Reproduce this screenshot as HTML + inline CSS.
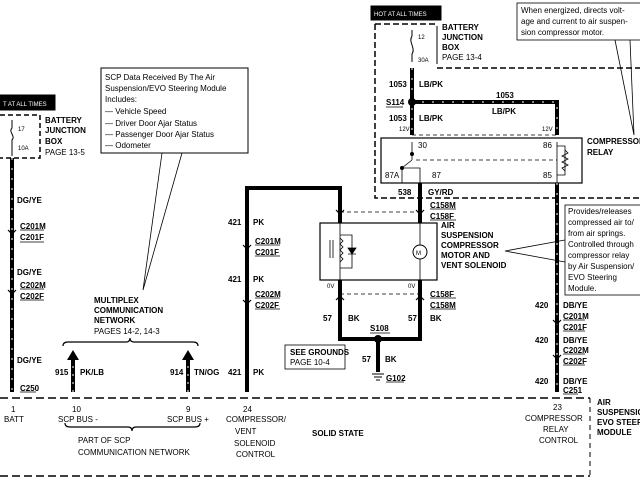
<!DOCTYPE html>
<html><head><meta charset="utf-8"><style>
html,body{margin:0;padding:0;background:#fff;}
svg{display:block;}
text{font-family:"Liberation Sans",sans-serif;font-size:8px;fill:#000;}
.b{font-weight:bold;}
.s{font-size:6px;}
</style></head><body>
<svg width="640" height="480" viewBox="0 0 640 480" xmlns="http://www.w3.org/2000/svg">
<rect width="640" height="480" fill="#fff"/>
<g stroke="#000" fill="none">
<rect x="0" y="95" width="55" height="15" fill="#000"/>
<path d="M0 115 H40 V158 H0" stroke-dasharray="5,3" stroke-width="1.5"/>
<path d="M12 120 V128 C8 132 16 136 12 140 V156" stroke-width="1"/>
<path d="M12 158 V392" stroke-width="4"/>
<path d="M12 158 V392" stroke="#fff" stroke-width="1" stroke-dasharray="2,8"/>
<path d="M0 398 H590" stroke-dasharray="8,4" stroke-width="1.5"/>
<path d="M0 476 H590" stroke-dasharray="8,4" stroke-width="1.5"/>
<path d="M590 398 V476" stroke-dasharray="5,4" stroke-width="1"/>
<rect x="101" y="68" width="147" height="85" stroke-width="1" fill="#fff"/>
<path d="M162 153 L143 290 L182 153" stroke-width="0.8"/>
<!-- braces -->
<path d="M63 346 Q63 342 68 342 H126 Q130 342 130 338 Q130 342 134 342 H193 Q198 342 198 346" stroke-width="1.2"/>
<path d="M65 423 Q65 427 70 427 H128 Q132 427 132 431 Q132 427 136 427 H195 Q200 427 200 423" stroke-width="1.2"/>
<path d="M73 358 V392 M188 358 V392" stroke-width="4"/>
<path d="M73 358 V392 M188 358 V392" stroke="#fff" stroke-width="1" stroke-dasharray="2,6"/>
<path d="M67 360 L73 350 L79 360 Z M182 360 L188 350 L194 360 Z" fill="#000" stroke="none"/>
<path d="M247 392 V188 H340 V212" stroke-width="4"/>
<rect x="371" y="6" width="70" height="14" fill="#000"/>
<path d="M375 24 H437 M375 24 V198 H640 M437 68 H640" stroke-dasharray="6,3" stroke-width="1.5"/>
<path d="M437 26 V64" stroke-width="1"/>
<path d="M412 30 V36 C408 42 416 48 412 54 V62" stroke-width="1"/>
<path d="M412 68 V135 M412 102 H557 V135" stroke-width="4"/>
<path d="M412 68 V135 M412 102 H557 V135" stroke="#fff" stroke-width="1" stroke-dasharray="2,8"/>
<rect x="381" y="138" width="201" height="45" stroke-width="1.2"/>
<path d="M412 135 H557" stroke-dasharray="4,3" stroke-width="0.8"/>
<path d="M412 160 V142 M412 160 L402 168 V183 M402 168 H420 V183 M557 142 V183 M557 146 H565 V175 H557" stroke-width="0.8"/>
<path d="M416 160 H557" stroke-dasharray="4,3" stroke-width="0.8"/>
<path d="M565 150 l3 3 -6 3 6 3 -6 3 6 3 -6 3 3 3" stroke-width="0.8"/>
<circle cx="412" cy="154" r="1.5" fill="#000"/><circle cx="402" cy="168" r="1.5" fill="#000"/>
<path d="M420 183 V212" stroke-width="4"/>
<path d="M340 212 H420" stroke-dasharray="4,3" stroke-width="0.8"/>
<rect x="320" y="223" width="117" height="57" stroke-width="1.2"/>
<path d="M340 212 V223 M420 212 V223" stroke-width="4"/>
<path d="M340 223 V280 M420 223 V280 M340 235 H352 V268 H340" stroke-width="0.8"/>
<path d="M340 238 l3 3 -3 3 3 3 -3 3 3 3 -3 3 3 3 -3 3" stroke-width="0.8"/>
<path d="M330 240 V258 M333 240 V258" stroke-width="0.8"/>
<path d="M348 248 H356 L352 254 Z M348 254 H356" stroke-width="0.8" fill="#000"/>
<circle cx="420" cy="252" r="7" stroke-width="1" fill="#fff"/>
<path d="M340 280 V339 H420 V280 M378 339 V372" stroke-width="4"/>
<path d="M340 294 H420" stroke-dasharray="4,3" stroke-width="0.8"/>
<circle cx="378" cy="339" r="3.5" fill="#000"/>
<path d="M372 374 H384 M374 377 H382 M376 380 H380" stroke-width="1"/>
<rect x="285" y="345" width="60" height="24" stroke-width="0.8" fill="#fff"/>
<path d="M557 183 V392" stroke-width="4"/>
<path d="M557 183 V392" stroke="#fff" stroke-width="1" stroke-dasharray="2,8"/>
<circle cx="412" cy="102" r="3.5" fill="#000"/>
<rect x="565" y="205" width="80" height="90" stroke-width="0.8" fill="#fff"/>
<path d="M565 240 L505 251 L565 262" stroke-width="0.8"/>
<rect x="517" y="3" width="130" height="37" stroke-width="0.8" fill="#fff"/>
<path d="M615 40 L634 135 L630 40" stroke-width="0.8"/>
<path d="M8 230 l4 4 4 -4 M8 290 l4 4 4 -4 M243 245 l4 4 4 -4 M243 300 l4 4 4 -4 M553 320 l4 4 4 -4 M553 355 l4 4 4 -4 M336 210 l4 4 4 -4 M416 210 l4 4 4 -4 M336 300 l4 -4 4 4 M416 300 l4 -4 4 4" stroke-width="1.2"/>
<path d="M20 230 H44 M20 242 H44 M20 289 H44 M20 300 H44 M20 392 H36 M255 245 H280 M255 256 H280 M255 298 H280 M255 309 H280 M430 209 H456 M430 220 H456 M430 298 H456 M430 309 H456 M563 320 H585 M563 331 H585 M563 354 H585 M563 365 H585 M563 394 H578 M370 333 H390 M386 382 H404 M386 107 H403" stroke-width="0.8"/>
</g>
<text x="3" y="106" class="s" style="fill:#fff">T AT ALL TIMES</text>
<text x="18" y="131" class="s">17</text><text x="18" y="150" class="s">10A</text>
<text x="45" y="123" class="b">BATTERY</text><text x="45" y="133" class="b">JUNCTION</text><text x="45" y="144" class="b">BOX</text><text x="45" y="155">PAGE 13-5</text>
<text x="17" y="203" class="b">DG/YE</text><text x="20" y="229" class="b">C201M</text><text x="20" y="240" class="b">C201F</text>
<text x="17" y="275" class="b">DG/YE</text><text x="20" y="288" class="b">C202M</text><text x="20" y="299" class="b">C202F</text>
<text x="17" y="363" class="b">DG/YE</text><text x="20" y="391" class="b">C250</text>
<text x="105" y="80">SCP Data Received By The Air</text><text x="105" y="91">Suspension/EVO Steering Module</text><text x="105" y="102">Includes:</text>
<text x="105" y="114">— Vehicle Speed</text><text x="105" y="126">— Driver Door Ajar Status</text><text x="105" y="137">— Passenger Door Ajar Status</text><text x="105" y="148">— Odometer</text>
<text x="94" y="303" class="b">MULTIPLEX</text><text x="94" y="313" class="b">COMMUNICATION</text><text x="94" y="323" class="b">NETWORK</text><text x="94" y="334">PAGES 14-2, 14-3</text>
<text x="55" y="375" class="b">915</text><text x="80" y="375" class="b">PK/LB</text><text x="170" y="375" class="b">914</text><text x="194" y="375" class="b">TN/OG</text>
<text x="228" y="225" class="b">421</text><text x="253" y="225" class="b">PK</text><text x="255" y="244" class="b">C201M</text><text x="255" y="255" class="b">C201F</text>
<text x="228" y="282" class="b">421</text><text x="253" y="282" class="b">PK</text><text x="255" y="297" class="b">C202M</text><text x="255" y="308" class="b">C202F</text>
<text x="228" y="375" class="b">421</text><text x="253" y="375" class="b">PK</text>
<text x="11" y="412">1</text><text x="4" y="422">BATT</text>
<text x="72" y="412">10</text><text x="58" y="422">SCP BUS -</text>
<text x="186" y="412">9</text><text x="167" y="422">SCP BUS +</text>
<text x="78" y="443">PART OF SCP</text><text x="78" y="455">COMMUNICATION NETWORK</text>
<text x="243" y="412">24</text><text x="226" y="422">COMPRESSOR/</text><text x="235" y="434">VENT</text><text x="234" y="446">SOLENOID</text><text x="236" y="457">CONTROL</text>
<text x="312" y="436" class="b">SOLID STATE</text>
<text x="553" y="410">23</text><text x="525" y="421">COMPRESSOR</text><text x="543" y="432">RELAY</text><text x="539" y="443">CONTROL</text>
<text x="597" y="405" class="b">AIR</text><text x="597" y="415" class="b">SUSPENSION</text><text x="597" y="425" class="b">EVO STEERING</text><text x="597" y="435" class="b">MODULE</text>
<text x="374" y="16" class="s" style="fill:#fff">HOT AT ALL TIMES</text>
<text x="418" y="39" class="s">12</text><text x="418" y="62" class="s">30A</text>
<text x="442" y="30" class="b">BATTERY</text><text x="442" y="40" class="b">JUNCTION</text><text x="442" y="50" class="b">BOX</text><text x="442" y="60">PAGE 13-4</text>
<text x="389" y="87" class="b">1053</text><text x="419" y="87" class="b">LB/PK</text>
<text x="386" y="105" class="b">S114</text><text x="496" y="98" class="b">1053</text><text x="492" y="114" class="b">LB/PK</text>
<text x="389" y="121" class="b">1053</text><text x="419" y="121" class="b">LB/PK</text>
<text x="399" y="131" class="s">12V</text><text x="542" y="131" class="s">12V</text>
<text x="418" y="148">30</text><text x="543" y="148">86</text><text x="385" y="178">87A</text><text x="432" y="178">87</text><text x="543" y="178">85</text>
<text x="587" y="144" class="b">COMPRESSOR</text><text x="587" y="155" class="b">RELAY</text>
<text x="398" y="195" class="b">538</text><text x="428" y="195" class="b">GY/RD</text><text x="430" y="208" class="b">C158M</text><text x="430" y="219" class="b">C158F</text>
<text x="441" y="228" class="b">AIR</text><text x="441" y="238" class="b">SUSPENSION</text><text x="441" y="248" class="b">COMPRESSOR</text><text x="441" y="258" class="b">MOTOR AND</text><text x="441" y="268" class="b">VENT SOLENOID</text>
<text x="416" y="255" class="s">M</text>
<text x="327" y="288" class="s">0V</text><text x="408" y="288" class="s">0V</text>
<text x="430" y="297" class="b">C158F</text><text x="430" y="308" class="b">C158M</text>
<text x="323" y="321" class="b">57</text><text x="348" y="321" class="b">BK</text><text x="408" y="321" class="b">57</text><text x="430" y="321" class="b">BK</text>
<text x="370" y="331" class="b">S108</text><text x="362" y="362" class="b">57</text><text x="385" y="362" class="b">BK</text><text x="386" y="381" class="b">G102</text>
<text x="290" y="355" class="b">SEE GROUNDS</text><text x="290" y="365">PAGE 10-4</text>
<text x="535" y="308" class="b">420</text><text x="563" y="308" class="b">DB/YE</text><text x="563" y="319" class="b">C201M</text><text x="563" y="330" class="b">C201F</text>
<text x="535" y="343" class="b">420</text><text x="563" y="343" class="b">DB/YE</text><text x="563" y="353" class="b">C202M</text><text x="563" y="364" class="b">C202F</text>
<text x="535" y="384" class="b">420</text><text x="563" y="384" class="b">DB/YE</text><text x="563" y="393" class="b">C251</text>
<text x="568" y="214">Provides/releases</text><text x="568" y="225">compressed air to/</text><text x="568" y="236">from air springs.</text><text x="568" y="247">Controlled through</text><text x="568" y="258">compressor relay</text><text x="568" y="269">by Air Suspension/</text><text x="568" y="280">EVO Steering</text><text x="568" y="291">Module.</text>
<text x="521" y="13">When energized, directs volt-</text><text x="521" y="24">age and current to air suspen-</text><text x="521" y="35">sion compressor motor.</text>
</svg>
</body></html>
